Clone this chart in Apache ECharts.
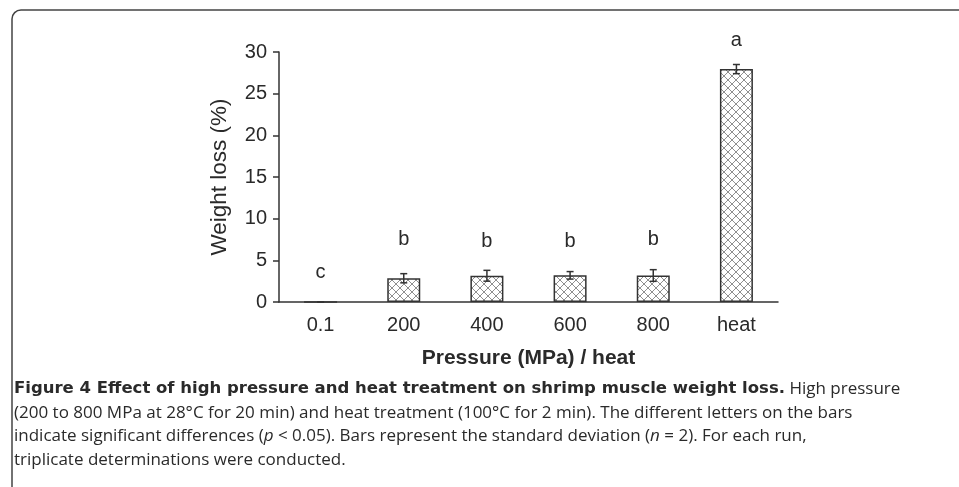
<!DOCTYPE html>
<html>
<head>
<meta charset="utf-8">
<script src="https://cdn.jsdelivr.net/npm/echarts@6/dist/echarts.min.js"></script>
<style>
html, body { margin: 0; padding: 0; background: #fff; }
#fig { width: 959px; height: 487px; }
</style>
</head>
<body>
<div id="fig"></div>
<script>
// values
var categories = ['0.1', '200', '400', '600', '800', 'heat'];
var weightLoss = [0, 2.85, 3.15, 3.2, 3.18, 27.95];
var stdDev = [0, 0.55, 0.65, 0.45, 0.7, 0.55];
var letters = ['c', 'b', 'b', 'b', 'b', 'a'];
var letterAt = [3.5, 7.45, 7.25, 7.25, 7.45, 31.4];

var captionLines = [
    '{b|Figure 4 Effect of high pressure and heat treatment on shrimp muscle weight loss.} High pressure',
    '(200 to 800 MPa at 28\u00B0C for 20 min) and heat treatment (100\u00B0C for 2 min). The different letters on the bars',
    'indicate significant differences ({i|p} < 0.05). Bars represent the standard deviation ({i|n} = 2). For each run,',
    'triplicate determinations were conducted.'
];

var ink = '#2a2a2a';
var chartFont = 'Liberation Sans';
var captionFont = 'Open Sans';
var captionSize = 17;

// cross hatch fill for the bars
function hatch() {
    var c = document.createElement('canvas');
    c.width = 8; c.height = 8;
    var g = c.getContext('2d');
    g.fillStyle = '#fff';
    g.fillRect(0, 0, 8, 8);
    g.strokeStyle = '#8f8f8f';
    g.lineWidth = 1;
    g.beginPath();
    g.moveTo(0, 0); g.lineTo(8, 8);
    g.moveTo(8, 0); g.lineTo(0, 8);
    g.stroke();
    return c;
}

var captionGraphics = captionLines.map(function (line, i) {
    return {
        type: 'text',
        x: 14,
        y: 389 + i * 23.7,
        style: {
            text: line,
            fill: ink,
            fontFamily: captionFont,
            fontSize: captionSize,
            textVerticalAlign: 'middle',
            rich: {
                b: { fontWeight: 'bold', fontFamily: 'DejaVu Sans', fontSize: 16.5, fill: ink },
                i: { fontStyle: 'italic', fontFamily: captionFont, fontSize: captionSize, fill: ink }
            }
        }
    };
});

var myChart = echarts.init(document.getElementById('fig'));

var option = {
    animation: false,
    backgroundColor: '#fff',
    textStyle: { fontFamily: chartFont, color: ink },
    grid: { left: 279, right: 181, top: 52, bottom: 185 },
    xAxis: [
        {
            type: 'category',
            position: 'bottom',
            data: categories,
            name: 'Pressure (MPa) / heat',
            nameLocation: 'middle',
            nameGap: 46,
            nameTextStyle: { fontSize: 21, fontWeight: 'bold', color: ink, fontFamily: chartFont },
            axisLine: { lineStyle: { color: '#333', width: 1.5 } },
            axisTick: { length: 5, lineStyle: { color: '#333', width: 1.5 } },
            axisLabel: { fontSize: 20, color: ink, margin: 13 }
        },
        {
            type: 'category',
            position: 'bottom',
            data: categories,
            axisLine: { show: false },
            axisTick: { inside: true, length: 6, lineStyle: { color: '#333', width: 1.5 } },
            axisLabel: { show: false }
        }
    ],
    yAxis: {
        type: 'value',
        min: 0,
        max: 30,
        interval: 5,
        name: 'Weight loss (%)',
        nameLocation: 'middle',
        nameGap: 48,
        nameTextStyle: { fontSize: 22.5, color: ink, fontFamily: chartFont },
        axisLine: { show: true, lineStyle: { color: '#333', width: 1.5 } },
        axisTick: { show: true, length: 6, lineStyle: { color: '#333', width: 1.5 } },
        axisLabel: { fontSize: 20, color: ink, margin: 12 },
        splitLine: { show: false }
    },
    series: [
        {
            type: 'bar',
            xAxisIndex: 0,
            data: weightLoss,
            barWidth: 33,
            itemStyle: {
                color: { image: hatch(), repeat: 'repeat' },
                borderColor: '#333',
                borderWidth: 1.5
            }
        },
        {
            // error bars
            type: 'custom',
            xAxisIndex: 0,
            z: 5,
            data: weightLoss.map(function (v, i) { return [i, v, stdDev[i]]; }),
            renderItem: function (params, api) {
                var x = api.value(0), m = api.value(1), s = api.value(2);
                var hi = api.coord([x, m + s]);
                var lo = api.coord([x, Math.max(0, m - s)]);
                var w = 3.5;
                var st = { stroke: '#333', lineWidth: 1.5 };
                return {
                    type: 'group',
                    children: [
                        { type: 'line', shape: { x1: hi[0], y1: hi[1], x2: lo[0], y2: lo[1] }, style: st },
                        { type: 'line', shape: { x1: hi[0] - w, y1: hi[1], x2: hi[0] + w, y2: hi[1] }, style: st },
                        { type: 'line', shape: { x1: lo[0] - w, y1: lo[1], x2: lo[0] + w, y2: lo[1] }, style: st }
                    ]
                };
            }
        },
        {
            // significance letters
            type: 'custom',
            xAxisIndex: 0,
            z: 6,
            data: letters.map(function (l, i) { return [i, letterAt[i]]; }),
            renderItem: function (params, api) {
                var p = api.coord([api.value(0), api.value(1)]);
                return {
                    type: 'text',
                    x: p[0],
                    y: p[1],
                    style: {
                        text: letters[params.dataIndex],
                        fill: ink,
                        fontFamily: chartFont,
                        fontSize: 20,
                        textAlign: 'center',
                        textVerticalAlign: 'middle'
                    }
                };
            }
        }
    ],
    graphic: [
        {
            type: 'rect',
            shape: { x: 12, y: 10, width: 1000, height: 1000, r: 9 },
            style: { fill: 'none', stroke: '#444', lineWidth: 1.5 }
        }
    ].concat(captionGraphics)
};

myChart.setOption(option);
</script>
</body>
</html>
